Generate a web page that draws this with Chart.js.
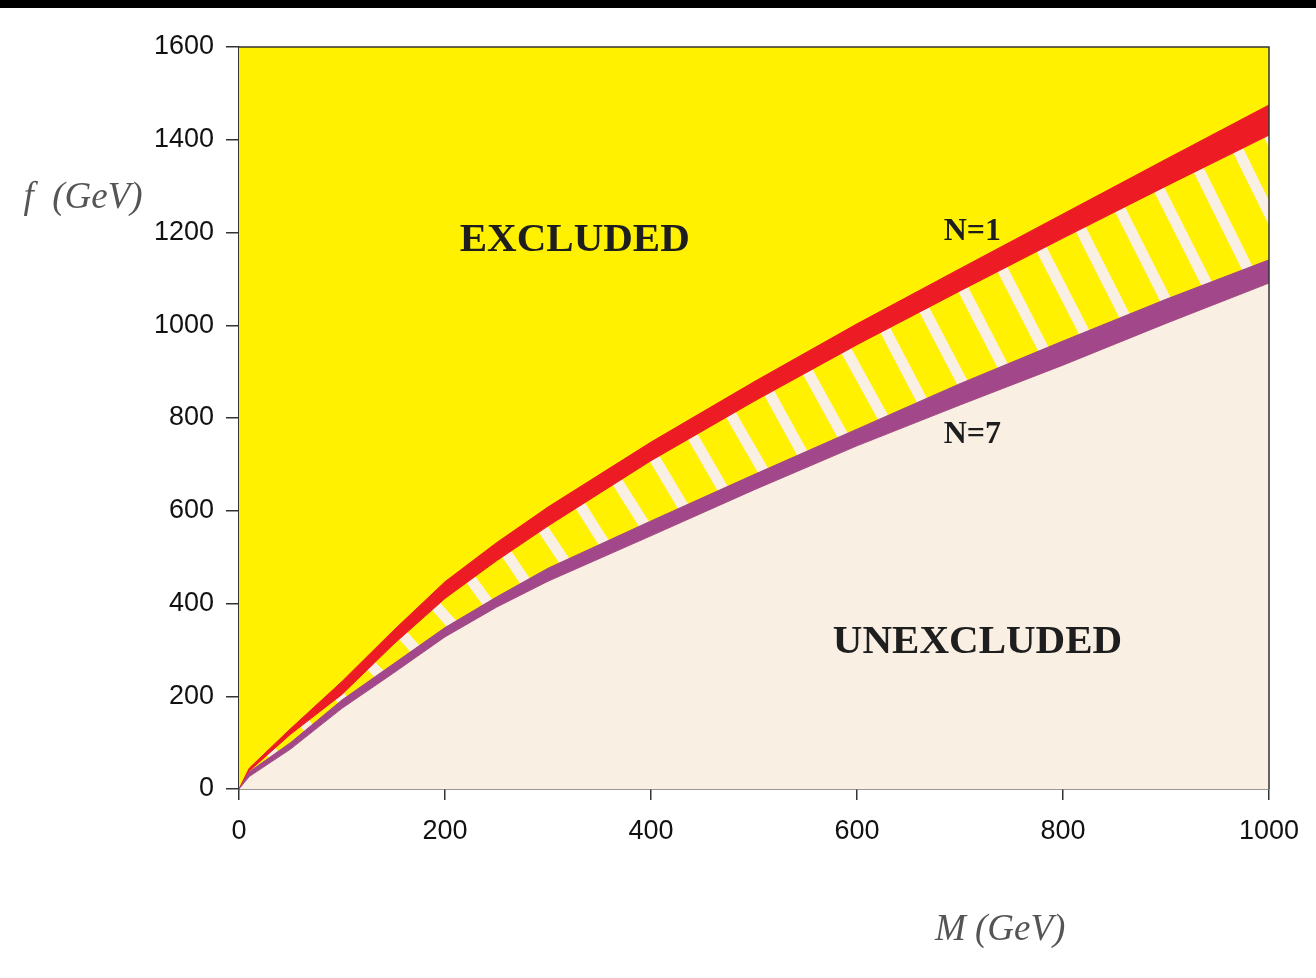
<!DOCTYPE html>
<html>
<head>
<meta charset="utf-8">
<script src="https://cdn.jsdelivr.net/npm/chart.js@4.4.1/dist/chart.umd.min.js"></script>
<style>
  html, body { margin: 0; padding: 0; background: #ffffff; }
  #wrap { position: relative; width: 1316px; height: 978px; overflow: hidden; }
  #topbar { position: absolute; left: 0; top: 0; width: 1316px; height: 8px; background: #000; z-index: 2; }
  canvas { position: absolute; left: 0; top: 0; }
</style>
</head>
<body>
<div id="wrap">
  <div id="topbar"></div>
  <canvas id="chart" width="1316" height="978"></canvas>
</div>
<script>
// Scalar mass M (GeV) sampled along the exclusion boundaries
const massGeV = [0, 10, 50, 100, 150, 200, 250, 300, 400, 500, 600, 700, 800, 900, 1000];
// N = 1 exclusion band (upper and lower edge), f in GeV
const n1Upper = [0, 45, 130, 232, 342, 447, 531, 608, 748, 878, 1003, 1122, 1240, 1358, 1475];
const n1Lower = [0, 39, 118, 204, 312, 411, 492, 567, 708, 836, 958, 1074, 1188, 1300, 1410];
// N = 7 exclusion band (upper and lower edge), f in GeV
const n7Upper = [0, 37, 100, 192, 270, 348, 414, 476, 578, 678, 776, 874, 966, 1056, 1141];
const n7Lower = [0, 27, 86, 174, 250, 328, 392, 448, 546, 645, 740, 828, 914, 1004, 1091];
// Axis ticks
const xTicks = [0, 200, 400, 600, 800, 1000];
const yTicks = [0, 200, 400, 600, 800, 1000, 1200, 1400, 1600];

const YELLOW = '#FFF100';
const CREAM = '#F9EFE3';
const RED = '#ED1C24';
const PURPLE = '#A2478A';
const AXIS = '#333333';

const toPoints = ys => massGeV.map((m, i) => ({ x: m, y: ys[i] }));

// Yellow "excluded" background behind everything in the plot area
const plotBackground = {
  id: 'plotBackground',
  beforeDatasetsDraw(chart) {
    const { ctx, chartArea: a } = chart;
    ctx.save();
    ctx.fillStyle = YELLOW;
    ctx.fillRect(a.left, a.top, a.right - a.left, a.bottom - a.top);
    ctx.restore();
  }
};

// Cream hatching between the N=1 and N=7 bands, stripes normal to the band
const bandHatch = {
  id: 'bandHatch',
  beforeDatasetsDraw(chart, args, opts) {
    const { ctx, chartArea: a } = chart;
    const top = chart.getDatasetMeta(opts.upperIndex).data.map(p => ({ x: p.x, y: p.y }));
    const bot = chart.getDatasetMeta(opts.lowerIndex).data.map(p => ({ x: p.x, y: p.y }));
    ctx.save();
    ctx.beginPath();
    ctx.rect(a.left, a.top, a.right - a.left, a.bottom - a.top);
    ctx.clip();
    ctx.beginPath();
    top.forEach((p, i) => i ? ctx.lineTo(p.x, p.y) : ctx.moveTo(p.x, p.y));
    for (let i = bot.length - 1; i >= 0; i--) ctx.lineTo(bot[i].x, bot[i].y);
    ctx.closePath();
    ctx.clip();

    // cumulative arc length along the upper edge of the hatched region
    const cum = [0];
    for (let i = 1; i < top.length; i++) {
      cum.push(cum[i - 1] + Math.hypot(top[i].x - top[i - 1].x, top[i].y - top[i - 1].y));
    }
    const total = cum[cum.length - 1];
    const at = s => {
      s = Math.max(0, Math.min(total, s));
      let i = 1;
      while (i < cum.length - 1 && cum[i] < s) i++;
      const seg = cum[i] - cum[i - 1] || 1;
      const t = (s - cum[i - 1]) / seg;
      return { x: top[i - 1].x + (top[i].x - top[i - 1].x) * t, y: top[i - 1].y + (top[i].y - top[i - 1].y) * t };
    };

    ctx.strokeStyle = CREAM;
    ctx.lineWidth = opts.width;
    ctx.lineCap = 'butt';
    for (let s = opts.offset; s < total + opts.spacing; s += opts.spacing) {
      const p = at(s);
      const p0 = at(s - 10), p1 = at(s + 10);
      let tx = p1.x - p0.x, ty = p1.y - p0.y;
      const len = Math.hypot(tx, ty) || 1;
      tx /= len; ty /= len;
      const nx = -ty, ny = tx;
      ctx.beginPath();
      ctx.moveTo(p.x - nx * 6, p.y - ny * 6);
      ctx.lineTo(p.x + nx * 220, p.y + ny * 220);
      ctx.stroke();
    }
    ctx.restore();
  }
};

// Frame, region labels and axis titles
const annotations = {
  id: 'annotations',
  afterDraw(chart) {
    const { ctx, chartArea: a, scales: { x, y } } = chart;
    ctx.save();
    ctx.strokeStyle = AXIS;
    ctx.lineWidth = 1.5;
    ctx.beginPath();
    ctx.moveTo(a.left, a.top);
    ctx.lineTo(a.right, a.top);
    ctx.lineTo(a.right, a.bottom);
    ctx.stroke();

    ctx.fillStyle = '#1e1e1e';
    ctx.textAlign = 'center';
    ctx.textBaseline = 'middle';
    ctx.font = 'bold 41px "Liberation Serif", "Times New Roman", serif';
    ctx.fillText('EXCLUDED', x.getPixelForValue(326), y.getPixelForValue(1184));
    ctx.fillText('UNEXCLUDED', x.getPixelForValue(717), y.getPixelForValue(317));
    ctx.font = 'bold 32px "Liberation Serif", "Times New Roman", serif';
    ctx.fillText('N=1', x.getPixelForValue(712), y.getPixelForValue(1201));
    ctx.fillText('N=7', x.getPixelForValue(712), y.getPixelForValue(763));

    ctx.fillStyle = '#555555';
    ctx.font = 'italic 37px "Liberation Serif", "Times New Roman", serif';
    ctx.fillText('f  (GeV)', a.left - 156, y.getPixelForValue(1274));
    ctx.fillText('M (GeV)', x.getPixelForValue(739), a.bottom + 141);
    ctx.restore();
  }
};

const bandSet = (label, ys, color, fill, fillColor) => ({
  label,
  data: toPoints(ys),
  borderColor: color,
  borderWidth: 1,
  backgroundColor: fillColor,
  fill,
  pointRadius: 0,
  tension: 0
});

const tickFont = { family: '"Liberation Sans", Arial, sans-serif', size: 27 };

new Chart(document.getElementById('chart'), {
  type: 'line',
  data: {
    datasets: [
      bandSet('N=7 lower', n7Lower, PURPLE, 'origin', CREAM),
      bandSet('N=7 upper', n7Upper, PURPLE, '-1', PURPLE),
      bandSet('N=1 lower', n1Lower, RED, false, RED),
      bandSet('N=1 upper', n1Upper, RED, '-1', RED)
    ]
  },
  options: {
    responsive: false,
    animation: false,
    events: [],
    layout: { padding: { left: 0, right: 47, top: 47, bottom: 89 } },
    plugins: {
      legend: { display: false },
      tooltip: { enabled: false },
      filler: { propagate: false },
      bandHatch: { upperIndex: 2, lowerIndex: 1, spacing: 44, offset: 6, width: 11 }
    },
    scales: {
      x: {
        type: 'linear',
        min: 0,
        max: 1000,
        afterFit: s => { s.height = 100; },
        afterBuildTicks: s => { s.ticks = xTicks.map(v => ({ value: v })); },
        grid: { display: true, drawOnChartArea: false, drawTicks: true, tickLength: 11, color: AXIS, lineWidth: 1.5 },
        border: { display: true, color: AXIS, width: 1.5 },
        ticks: { color: '#111111', padding: 15, maxRotation: 0, font: tickFont, callback: v => String(v) }
      },
      y: {
        type: 'linear',
        min: 0,
        max: 1600,
        afterFit: s => { s.width = 239; },
        afterBuildTicks: s => { s.ticks = yTicks.map(v => ({ value: v })); },
        grid: { display: true, drawOnChartArea: false, drawTicks: true, tickLength: 13, color: AXIS, lineWidth: 1.5 },
        border: { display: true, color: AXIS, width: 1.5 },
        ticks: { color: '#111111', padding: 12, font: tickFont, callback: v => String(v) }
      }
    }
  },
  plugins: [plotBackground, bandHatch, annotations]
});
</script>
</body>
</html>
